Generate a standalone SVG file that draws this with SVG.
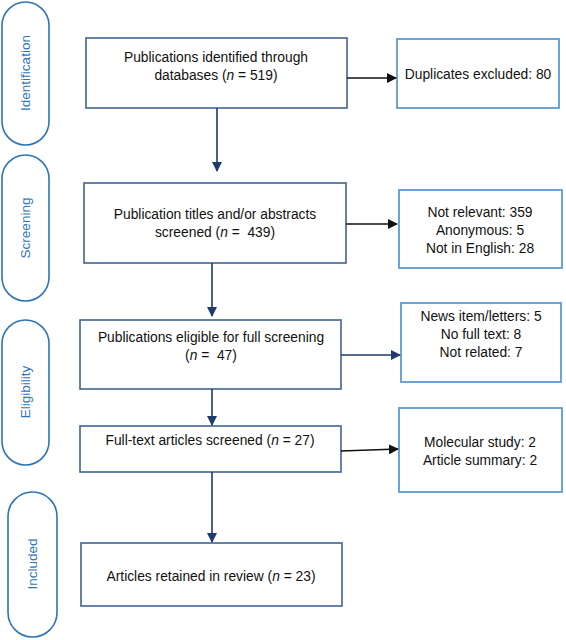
<svg xmlns="http://www.w3.org/2000/svg" width="566" height="640" viewBox="0 0 566 640">
<defs>
<style>
.pill{fill:#fff;stroke:#2e75b6;stroke-width:1.6}
.pt{font-family:"Liberation Sans",Arial,sans-serif;font-size:13.5px;fill:#2e75b6;text-anchor:middle}
.main{fill:#fff;stroke:#41648c;stroke-width:1.6}
.side{fill:#fff;stroke:#5b9bd5;stroke-width:1.8}
.t{font-family:"Liberation Sans",Arial,sans-serif;font-size:13.8px;fill:#111;text-anchor:middle}
.navy{stroke:#1f3a6e;stroke-width:1.6;fill:none}
.blk{stroke:#111;stroke-width:1.4;fill:none}
</style>
<marker id="an" markerWidth="10" markerHeight="10" refX="9" refY="5" orient="auto" markerUnits="userSpaceOnUse"><path d="M0,0 L10,5 L0,10 z" fill="#1f3a6e"/></marker>
<marker id="ab" markerWidth="10" markerHeight="10" refX="9" refY="5" orient="auto" markerUnits="userSpaceOnUse"><path d="M0,0 L10,5 L0,10 z" fill="#111"/></marker>
</defs>
<rect width="566" height="640" fill="#fff"/>

<g id="stage-identification"><rect class="pill" x="2" y="2" width="47" height="143" rx="23.5"/><text class="pt" transform="translate(30,73) rotate(-90)">Identification</text></g>
<g id="stage-screening"><rect class="pill" x="2" y="155" width="47" height="146" rx="23.5"/><text class="pt" transform="translate(30,228) rotate(-90)">Screening</text></g>
<g id="stage-eligibility"><rect class="pill" x="2" y="320" width="47" height="145" rx="23.5"/><text class="pt" transform="translate(30,392) rotate(-90)">Eligibility</text></g>
<g id="stage-included"><rect class="pill" x="8" y="492" width="49" height="145" rx="24.5"/><text class="pt" transform="translate(37,564) rotate(-90)">Included</text></g>

<g id="n-identified"><rect class="main" x="86" y="38" width="261" height="70"/><text class="t" x="216" y="62">Publications identified through</text><text class="t" x="216" y="80">databases (<tspan font-style="italic">n</tspan> = 519)</text></g>
<g id="n-duplicates"><rect class="side" x="397" y="39" width="162" height="69"/><text class="t" x="478" y="79">Duplicates excluded: 80</text></g>

<g id="n-screened"><rect class="main" x="84" y="183" width="262" height="80"/><text class="t" x="215" y="219">Publication titles and/or abstracts</text><text class="t" x="215" y="237" xml:space="preserve">screened (<tspan font-style="italic">n</tspan> =  439)</text></g>
<g id="n-excluded1"><rect class="side" x="399" y="190" width="163" height="78"/><text class="t" x="480" y="217">Not relevant: 359</text><text class="t" x="480" y="235">Anonymous: 5</text><text class="t" x="480" y="253">Not in English: 28</text></g>

<g id="n-eligible"><rect class="main" x="80" y="320" width="261" height="69"/><text class="t" x="211" y="342">Publications eligible for full screening</text><text class="t" x="211" y="360" xml:space="preserve">(<tspan font-style="italic">n</tspan> =  47)</text></g>
<g id="n-excluded2"><rect class="side" x="401" y="303" width="160" height="79"/><text class="t" x="481" y="321">News item/letters: 5</text><text class="t" x="481" y="339">No full text: 8</text><text class="t" x="481" y="357">Not related: 7</text></g>

<g id="n-fulltext"><rect class="main" x="80" y="426" width="261" height="46"/><text class="t" x="210" y="445">Full-text articles screened (<tspan font-style="italic">n</tspan> = 27)</text></g>
<g id="n-excluded3"><rect class="side" x="399" y="408" width="163" height="84"/><text class="t" x="480" y="447">Molecular study: 2</text><text class="t" x="480" y="465">Article summary: 2</text></g>

<g id="n-included"><rect class="main" x="81" y="543" width="261" height="63"/><text class="t" x="211" y="581">Articles retained in review (<tspan font-style="italic">n</tspan> = 23)</text></g>

<g id="connectors">
<line class="blk" x1="347" y1="78" x2="396" y2="78" marker-end="url(#ab)"/>
<line class="navy" x1="217" y1="108" x2="217" y2="171" marker-end="url(#an)"/>
<line class="blk" x1="346" y1="224" x2="397" y2="224" marker-end="url(#ab)"/>
<line class="navy" x1="212" y1="263" x2="212" y2="316" marker-end="url(#an)"/>
<line class="navy" x1="341" y1="355" x2="400" y2="355" marker-end="url(#an)"/>
<line class="navy" x1="212" y1="389" x2="212" y2="425" marker-end="url(#an)"/>
<line class="blk" x1="341" y1="451" x2="398" y2="449" marker-end="url(#ab)"/>
<line class="navy" x1="212" y1="472" x2="212" y2="542" marker-end="url(#an)"/>
</g>
</svg>
